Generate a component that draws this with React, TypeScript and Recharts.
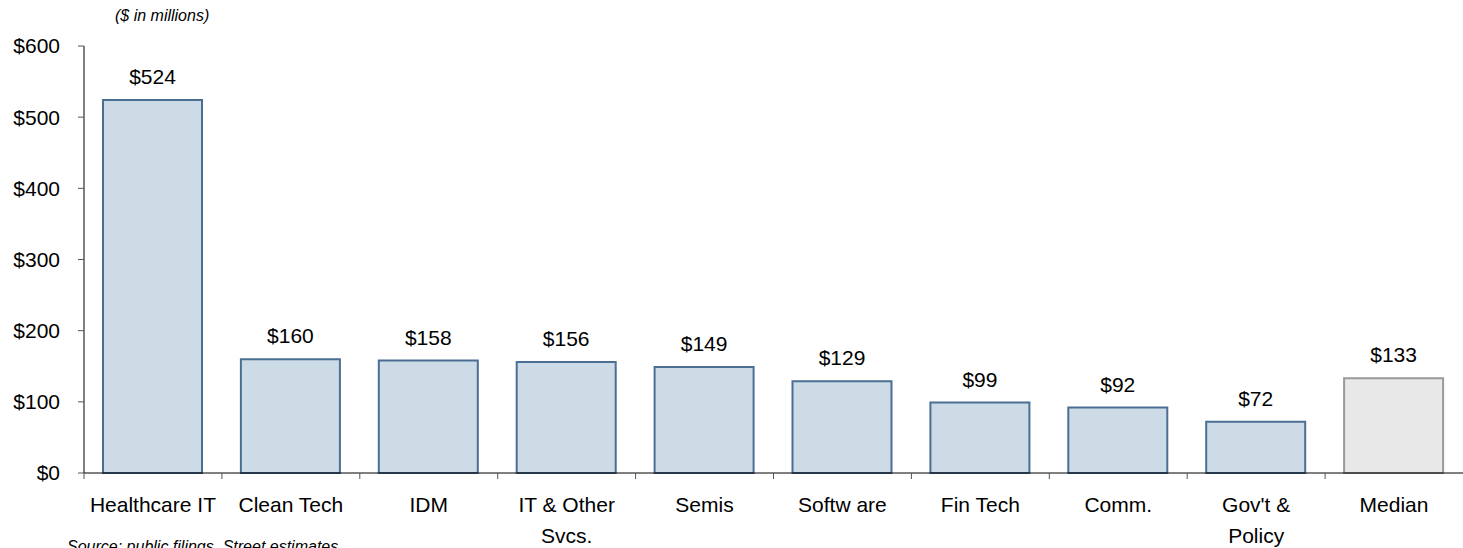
import * as React from "react"
import { BarChart, Bar, XAxis, YAxis, Cell, LabelList } from "recharts"

const categories = ["Healthcare IT", "Clean Tech", "IDM", "IT & Other\nSvcs.", "Semis", "Softw are", "Fin Tech", "Comm.", "Gov't &\nPolicy", "Median"]
const values = [524, 160, 158, 156, 149, 129, 99, 92, 72, 133]
const yTicks = [0, 100, 200, 300, 400, 500, 600]

const W = 1463
const H = 548
const margin = { top: 46, right: 0, left: 0, bottom: 0 }
const yAxisWidth = 84
const band = (W - yAxisWidth - margin.right) / categories.length

const data = categories.map((name, i) => ({ name, value: values[i] }))

const FONT = "'Liberation Sans', Arial, sans-serif"

const barFill = "#CDDBE6"
const barStroke = "#4B6F93"
const medianFill = "#E8E8E8"
const medianStroke = "#9A9A9A"

const CategoryTick = (props: any) => {
  const { x, y, payload } = props
  const lines = String(payload.value).split("\n")
  const left = x - band / 2
  return (
    <g>
      <line x1={left} x2={left} y1={y - 8} y2={y - 2} stroke="#555" strokeWidth={1} />
      <text x={x} y={y} textAnchor="middle" fontFamily={FONT} fontSize={21} fill="#000">
        {lines.map((l, i) => (
          <tspan key={i} x={x} dy={i === 0 ? 31 : 31}>
            {l}
          </tspan>
        ))}
      </text>
    </g>
  )
}

export default function App() {
  return (
    <div style={{ position: "absolute", left: 0, top: 0, width: W, height: H, background: "#fff", overflow: "hidden" }}>
      <div
        style={{
          position: "absolute",
          left: 115,
          top: 7,
          fontFamily: FONT,
          fontStyle: "italic",
          fontSize: 16,
          color: "#000",
          whiteSpace: "nowrap",
        }}
      >
        ($ in millions)
      </div>
      <BarChart width={W} height={H} data={data} margin={margin} barSize={99}>
        <XAxis
          dataKey="name"
          interval={0}
          height={75}
          tickLine={false}
          tickSize={6}
          tickMargin={2}
          axisLine={{ stroke: "#000", strokeWidth: 1 }}
          tick={<CategoryTick />}
        />
        <YAxis
          width={yAxisWidth}
          domain={[0, 600]}
          ticks={yTicks}
          interval={0}
          tickSize={6}
          tickMargin={18}
          tickLine={{ stroke: "#555" }}
          axisLine={{ stroke: "#000", strokeWidth: 1 }}
          tickFormatter={(v: number) => `$${v}`}
          tick={{ fontFamily: FONT, fontSize: 21, fill: "#000" }}
        />
        <Bar dataKey="value" isAnimationActive={false} strokeWidth={2}>
          {data.map((d, i) => (
            <Cell
              key={d.name}
              fill={i === data.length - 1 ? medianFill : barFill}
              stroke={i === data.length - 1 ? medianStroke : barStroke}
            />
          ))}
          <LabelList
            dataKey="value"
            position="top"
            offset={16}
            formatter={(v: any) => `$${v}`}
            style={{ fontFamily: FONT, fontSize: 21, fill: "#000" }}
          />
        </Bar>
      </BarChart>
      <div
        style={{
          position: "absolute",
          left: 67,
          top: 538,
          fontFamily: FONT,
          fontStyle: "italic",
          fontSize: 16,
          color: "#000",
          whiteSpace: "nowrap",
        }}
      >
        Source: public filings, Street estimates
      </div>
    </div>
  )
}
